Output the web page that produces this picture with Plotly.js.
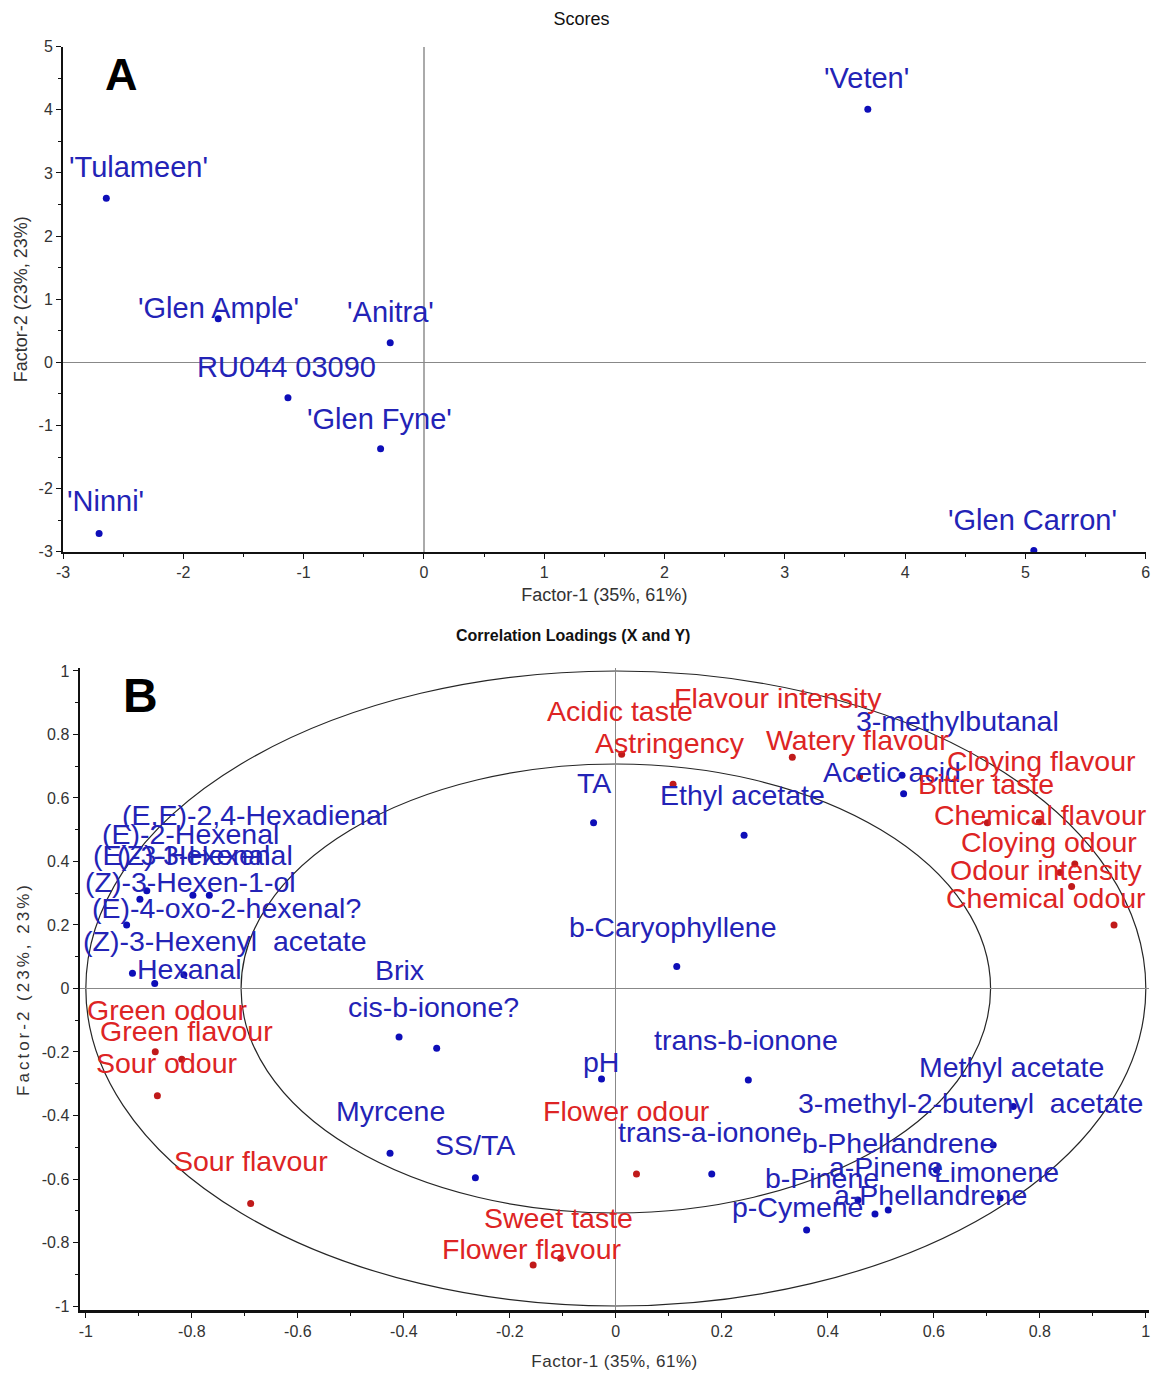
<!DOCTYPE html>
<html>
<head>
<meta charset="utf-8">
<script src="https://cdn.plot.ly/plotly-3.0.1.min.js"></script>
<style>html,body{margin:0;padding:0;background:#fff;}#chart{width:1157px;height:1374px;}</style>
</head>
<body>
<div id="chart"></div>
<script>
// ---------- Panel A: Scores ----------
const scoreNames = ["'Tulameen'", "'Glen Ample'", "'Anitra'", "RU044 03090", "'Glen Fyne'", "'Ninni'", "'Veten'", "'Glen Carron'"];
const scoreF1 = [-2.64, -1.71, -0.28, -1.13, -0.36, -2.70, 3.69, 5.07];
const scoreF2 = [2.60, 0.69, 0.31, -0.56, -1.37, -2.71, 4.01, -2.98];

// ---------- Panel B: Correlation loadings ----------
const xVarNames = ["(E,E)-2,4-Hexadienal", "(E)-2-Hexenal", "(E)-3-Hexenal", "(Z)-3-Hexenal", "(Z)-3-Hexen-1-ol",
  "(E)-4-oxo-2-hexenal?", "(Z)-3-Hexenyl\u00a0 acetate", "Hexanal", "TA", "Ethyl acetate", "3-methylbutanal", "Acetic acid",
  "b-Caryophyllene", "Brix", "cis-b-ionone?", "pH", "trans-b-ionone", "Myrcene", "SS/TA", "trans-a-ionone",
  "Methyl acetate", "3-methyl-2-butenyl\u00a0 acetate", "b-Phellandrene", "a-Pinene", "Limonene", "b-Pinene",
  "a-Phellandrene", "p-Cymene"];
const xVarF1 = [-0.767, -0.798, -0.885, -0.898, -0.923, -0.912, -0.870, -0.815, -0.042, 0.242, 0.540, 0.543,
  0.115, -0.409, -0.338, -0.027, 0.250, -0.426, -0.265, 0.181, 0.750, 0.712, 0.605, 0.514, 0.725, 0.457, 0.489, 0.360];
const xVarF2 = [0.294, 0.294, 0.308, 0.281, 0.200, 0.048, 0.016, 0.043, 0.522, 0.483, 0.672, 0.613,
  0.069, -0.153, -0.188, -0.285, -0.288, -0.519, -0.596, -0.584, -0.372, -0.493, -0.572, -0.698, -0.660, -0.666, -0.710, -0.761];

const yVarNames = ["Acidic taste", "Astringency", "Flavour intensity", "Watery flavour", "Cloying flavour", "Bitter taste",
  "Chemical flavour", "Cloying odour", "Odour intensity", "Chemical odour", "Green odour", "Green flavour",
  "Sour odour", "Sour flavour", "Sweet taste", "Flower flavour", "Flower odour"];
const yVarF1 = [0.011, 0.108, 0.333, 0.460, 0.799, 0.701, 0.866, 0.838, 0.860, 0.940, -0.869, -0.819, -0.865, -0.689, -0.104, -0.156, 0.039];
const yVarF2 = [0.738, 0.643, 0.728, 0.667, 0.525, 0.522, 0.392, 0.365, 0.321, 0.200, -0.199, -0.223, -0.338, -0.677, -0.850, -0.871, -0.584];

const circleRadii = [1, Math.SQRT1_2];

// tick labels
const scoreXTicks = [-3, -2, -1, 0, 1, 2, 3, 4, 5, 6];
const scoreXTickText = ["-3", "-2", "-1", "0", "1", "2", "3", "4", "5", "6"];
const scoreYTicks = [-3, -2, -1, 0, 1, 2, 3, 4, 5];
const scoreYTickText = ["-3", "-2", "-1", "0", "1", "2", "3", "4", "5"];
const loadTicks = [-1, -0.8, -0.6, -0.4, -0.2, 0, 0.2, 0.4, 0.6, 0.8, 1];
const loadTickText = ["-1", "-0.8", "-0.6", "-0.4", "-0.2", "0", "0.2", "0.4", "0.6", "0.8", "1"];

// ---------- label placement (pixel offsets: horizontal shift, baseline height above point) ----------
const scoreLblDx = [32, 0, 0, -1, -1, 6, -1, -1];
const scoreLblUp = [21, 1, 21, 21, 20, 22, 21, 20];
const xVarLblDx = [46, -2, 35, 65, 64, 94, 70, 6, 0, -2, 55, -12, -4, 0, -3, -1, -2, 0, 0, -2, -2, -23, -38, -2, -4, -36, 56, -9];
const xVarLblUp = [70, 51, 26, 34, 33, 55, 32, -4, 30, 30, 44, 12, 30, 57, 31, 7, 30, 32, 23, 32, 30, 32, 17, 33, 16, 12, 9, 13];
const yVarLblDx = [-2, -3, -14, -2, 2, -1, -34, -11, -26, -68, 12, 5, 10, 0, -2, -2, -10];
const yVarLblUp = [33, 31, 49, 27, 51, 29, 39, 21, 7, 17, 32, 18, 23, 32, 30, 6, 53];

// ---------- styles ----------
const FONT = "Liberation Sans, Arial, Helvetica, sans-serif";
const BLUE_TXT = "#2323b6", BLUE_DOT = "#0e0eb8";
const RED_TXT = "#dd2424", RED_DOT = "#c01a1a";
const W = 1157, H = 1374;

function labelAnnots(names, xs, ys, dx, up, color, size, xref, yref) {
  const base = Math.round(size * 0.212) + 2;
  return names.map((n, i) => ({
    x: xs[i], y: ys[i], xref: xref, yref: yref, text: n, showarrow: false,
    xanchor: "center", yanchor: "bottom", xshift: dx[i], yshift: up[i] - base,
    font: {family: FONT, size: size, color: color}
  }));
}

const traces = [
  {x: scoreF1, y: scoreF2, text: scoreNames, type: "scatter", mode: "markers", xaxis: "x", yaxis: "y",
   marker: {color: BLUE_DOT, size: 7}, cliponaxis: false, hoverinfo: "text"},
  {x: xVarF1, y: xVarF2, text: xVarNames, type: "scatter", mode: "markers", xaxis: "x2", yaxis: "y2",
   marker: {color: BLUE_DOT, size: 7}, cliponaxis: false, hoverinfo: "text"},
  {x: yVarF1, y: yVarF2, text: yVarNames, type: "scatter", mode: "markers", xaxis: "x2", yaxis: "y2",
   marker: {color: RED_DOT, size: 7}, cliponaxis: false, hoverinfo: "text"}
];

let annotations = [];
annotations = annotations.concat(labelAnnots(scoreNames, scoreF1, scoreF2, scoreLblDx, scoreLblUp, BLUE_TXT, 29, "x", "y"));
annotations = annotations.concat(labelAnnots(xVarNames, xVarF1, xVarF2, xVarLblDx, xVarLblUp, BLUE_TXT, 28.5, "x2", "y2"));
annotations = annotations.concat(labelAnnots(yVarNames, yVarF1, yVarF2, yVarLblDx, yVarLblUp, RED_TXT, 28.5, "x2", "y2"));
annotations.push({text: "A", xref: "paper", yref: "paper", x: 121.3 / W, y: 1 - 75 / H, xanchor: "center", yanchor: "middle",
  showarrow: false, font: {family: FONT, size: 45, color: "#000", weight: "bold"}});
annotations.push({text: "B", xref: "paper", yref: "paper", x: 140.8 / W, y: 1 - 695 / H, xanchor: "center", yanchor: "middle",
  showarrow: false, font: {family: FONT, size: 48, color: "#000", weight: "bold"}});
annotations.push({text: "Correlation Loadings (X and Y)", xref: "paper", yref: "paper", x: 573 / W, y: 1 - 635.3 / H,
  xanchor: "center", yanchor: "middle", showarrow: false, font: {family: FONT, size: 16, color: "#111", weight: "bold"}});

const shapes = circleRadii.map(r => ({
  type: "circle", xref: "x2", yref: "y2", x0: -r, x1: r, y0: -r, y1: r, layer: "below",
  line: {color: "#262626", width: 1.2}
}));

const tickFont = {family: FONT, size: 16, color: "#333"};
const axisTitleFont = {family: FONT, size: 18, color: "#333"};
function axisBase() {
  return {showgrid: false, showline: true, linecolor: "#111", linewidth: 2, ticks: "outside", ticklen: 5,
    tickcolor: "#111", tickwidth: 1, tickfont: tickFont, zeroline: true, zerolinecolor: "#999", zerolinewidth: 1,
    tickmode: "array", fixedrange: true};
}

const layout = {
  width: W, height: H, margin: {l: 0, r: 0, t: 0, b: 0}, paper_bgcolor: "#fff", plot_bgcolor: "#fff",
  showlegend: false, font: {family: FONT},
  title: {text: "Scores", x: 581.5 / W, y: 1 - 18.6 / H, xref: "paper", yref: "paper", xanchor: "center", yanchor: "middle",
    font: {family: FONT, size: 18, color: "#111"}},
  xaxis: Object.assign(axisBase(), {domain: [63 / W, 1145.7 / W], range: [-3, 6], anchor: "y",
    tickvals: scoreXTicks, ticktext: scoreXTickText, zerolinecolor: "#aaa", zerolinewidth: 2,
    minor: {dtick: 0.5, tick0: 0, ticks: "outside", ticklen: 3, tickcolor: "#111"},
    title: {text: "Factor-1 (35%, 61%)", font: axisTitleFont, standoff: 8}}),
  yaxis: Object.assign(axisBase(), {domain: [1 - 551.7 / H, 1 - 46.7 / H], range: [-3, 5], anchor: "x",
    tickvals: scoreYTicks, ticktext: scoreYTickText, zerolinecolor: "#888",
    minor: {dtick: 0.5, tick0: 0, ticks: "outside", ticklen: 3, tickcolor: "#111"},
    title: {text: "Factor-2 (23%, 23%)", font: axisTitleFont, standoff: 6}}),
  xaxis2: Object.assign(axisBase(), {domain: [80 / W, 1149 / W], range: [-1.011, 1.006], anchor: "y2",
    tickvals: loadTicks, ticktext: loadTickText, linewidth: 2.5, zerolinecolor: "#888",
    minor: {dtick: 0.1, tick0: 0, ticks: "outside", ticklen: 3, tickcolor: "#111"},
    title: {text: "Factor-1 (35%, 61%)", font: {family: FONT, size: 17, color: "#333"}, standoff: 17}}),
  yaxis2: Object.assign(axisBase(), {domain: [1 - 1310 / H, 1 - 668 / H], range: [-1.0126, 1.0094], anchor: "x2",
    tickvals: loadTicks, ticktext: loadTickText, linewidth: 2.5, zerolinecolor: "#888",
    minor: {dtick: 0.1, tick0: 0, ticks: "outside", ticklen: 3, tickcolor: "#111"},
    title: {text: "Factor-2 (23%, 23%)", font: {family: FONT, size: 17, color: "#333"}, standoff: 8}}),
  annotations: annotations,
  shapes: shapes
};

Plotly.newPlot("chart", traces, layout, {displayModeBar: false, staticPlot: true}).then(() => {
  const t = document.querySelector(".g-y2title text");
  if (t) t.style.letterSpacing = "3px";
  const x2 = document.querySelector(".g-x2title text");
  if (x2) x2.style.letterSpacing = "0.5px";
});
</script>
</body>
</html>
